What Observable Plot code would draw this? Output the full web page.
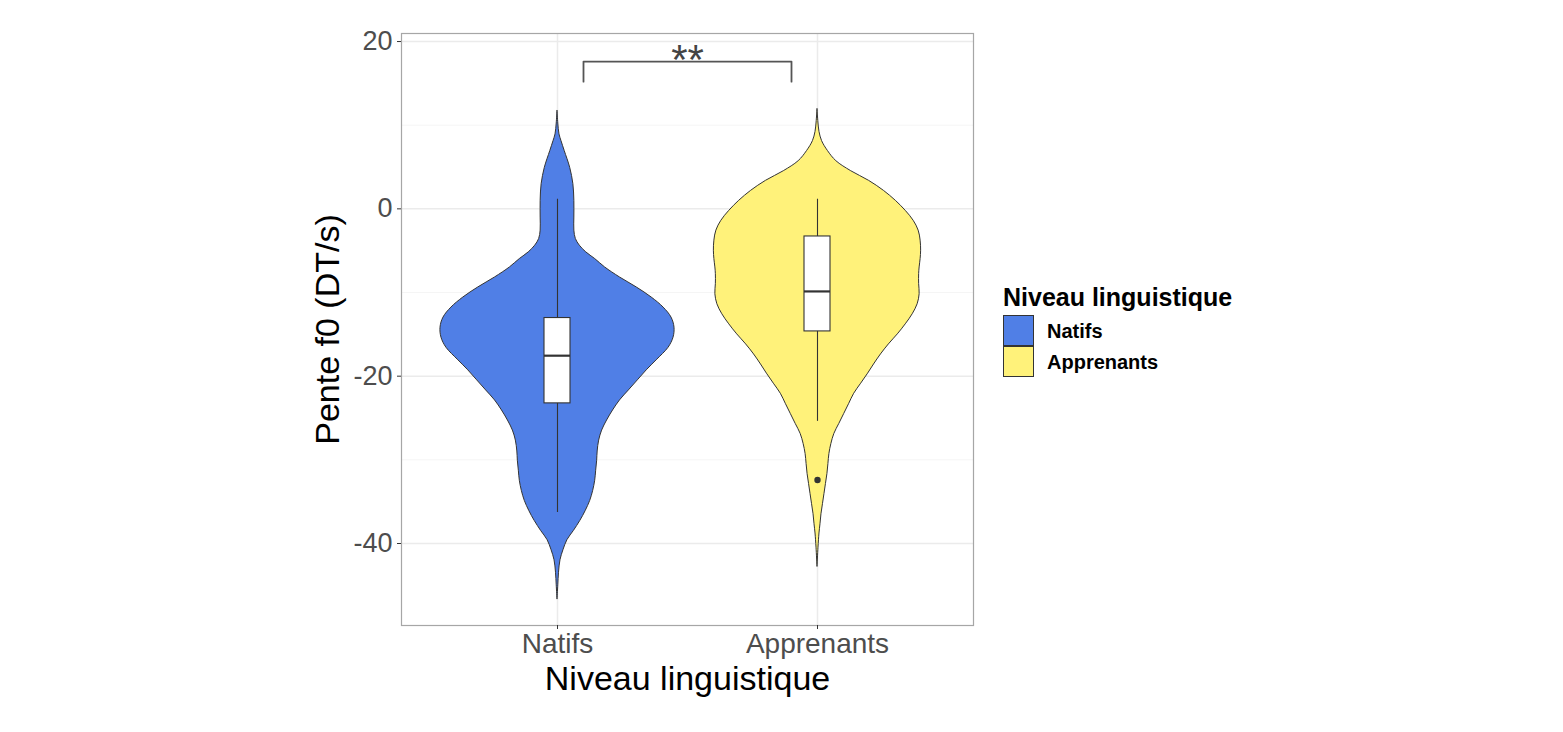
<!DOCTYPE html>
<html>
<head>
<meta charset="utf-8">
<script src="https://cdn.jsdelivr.net/npm/d3@7"></script>
<script src="https://cdn.jsdelivr.net/npm/@observablehq/plot@0.6"></script>
<style>
  html, body { margin: 0; padding: 0; background: #fff; }
  #wrap { position: relative; width: 1563px; height: 732px; font-family: "Liberation Sans", Arial, sans-serif; }
  #legend { position: absolute; left: 1003px; top: 0; }
  .lg-title { position: absolute; left: 0; top: 285px; font-size: 25px; line-height: 25px; font-weight: bold; white-space: nowrap; color: #000; }
  .lg-key { position: absolute; left: 0; width: 29px; height: 29px; border: 1px solid #333; box-sizing: content-box; }
  .lg-label { position: absolute; left: 44px; font-size: 20px; line-height: 20px; font-weight: bold; white-space: nowrap; color: #000; }
</style>
</head>
<body>
<div id="wrap"><div id="chart"></div><div id="legend"></div></div>
<script>
// ---------- data ----------
const categories = ["Natifs", "Apprenants"];
const fillColors = ["#507FE6", "#FFF27A"];

// violin profiles: y value and relative density (half-width)
const natifsY = [11.7, 10.2, 8.9, 8.1, 6.9, 4.9, 2.95, 0.96, -1.04, -2.6, -3.6, -4.4, -5.2, -6.0, -7.0, -8.2, -9.4, -10.6, -11.8, -13.0, -14.2, -15.4, -16.6, -18.1, -19.3, -20.5, -21.7, -22.9, -24.1, -25.3, -26.5, -27.7, -29.0, -30.1, -31.3, -32.5, -33.7, -34.9, -36.1, -37.3, -38.5, -39.6, -40.8, -42.0, -43.5, -45.0, -46.7];
const natifsDensity = [0, 0.8, 2, 4, 7.3, 12.8, 16, 17, 17, 17, 18.5, 22.5, 29, 38, 48, 63, 80, 95, 107, 115, 118, 117, 112, 100, 90, 81, 72, 63, 56, 50, 45, 42, 40.5, 40, 39, 38, 36, 33, 28.5, 23, 16.5, 10, 6, 3, 1.5, 0.8, 0];

const apprenantsY = [11.9, 10.5, 9.2, 8.1, 6.9, 5.7, 4.5, 3.35, 2.15, 0.96, -0.24, -1.43, -2.6, -3.8, -5.0, -6.0, -7.0, -7.8, -9.0, -10.2, -11.4, -12.6, -13.8, -15.0, -16.2, -17.4, -18.6, -19.7, -20.9, -22.1, -23.3, -24.5, -25.7, -26.9, -28.1, -29.3, -30.5, -31.7, -32.9, -34.1, -35.3, -36.5, -37.7, -38.8, -40.5, -42.8];
const apprenantsDensity = [0, 0.8, 2, 4.6, 10.6, 19, 34, 52, 67, 79, 89, 97, 102, 104, 104.5, 104, 103, 102.5, 102.5, 103, 101, 96, 89, 81, 72, 64, 57, 51, 44, 37, 32, 27, 22, 17, 14, 12, 11, 10, 8.5, 7, 5.5, 4, 3, 2, 1, 0];

// box plot statistics
const whiskerLow = [-36.3, -25.4];
const boxQ1 = [-23.25, -14.65];
const boxMedian = [-17.55, -9.87];
const boxQ3 = [-13.05, -3.3];
const whiskerHigh = [1.15, 1.15];
const outlierCategory = ["Apprenants"];
const outlierValue = [-32.4];

// significance annotation
const signifLabel = "**";
const signifPair = ["Natifs", "Apprenants"];
const bracketTop = 17.6;
const bracketLeg = 15.2;

// axes
const yMajorTicks = [20, 0, -20, -40];
const yMinorTicks = [10, -10, -30];
const xTitle = "Niveau linguistique";
const yTitle = "Pente f0 (DT/s)";
const legendTitle = "Niveau linguistique";

// ---------- build ----------
const pos = c => categories.indexOf(c) + 1;
const violinRows = [];
[[natifsY, natifsDensity], [apprenantsY, apprenantsDensity]].forEach(([ys, ds], i) => {
  ys.forEach((y, j) => violinRows.push({cat: categories[i], x: i + 1, y, d: ds[j]}));
});
const maxD = d3.max(violinRows, r => r.d);
const HALF = 0.45;
const hw = r => r.d / maxD * HALF;

const boxes = categories.map((c, i) => ({cat: c, x: i + 1, lo: whiskerLow[i], q1: boxQ1[i], med: boxMedian[i], q3: boxQ3[i], hi: whiskerHigh[i]}));
const BOXW = 0.05;
const outliers = outlierCategory.map((c, i) => ({x: pos(c), y: outlierValue[i]}));

const xa = pos(signifPair[0]) + 0.1, xb = pos(signifPair[1]) - 0.1;
const bracket = [{x: xa, y: bracketLeg}, {x: xa, y: bracketTop}, {x: xb, y: bracketTop}, {x: xb, y: bracketLeg}];

const chart = Plot.plot({
  width: 1563,
  height: 732,
  marginLeft: 401,
  marginRight: 590,
  marginTop: 33,
  marginBottom: 107,
  style: {fontFamily: '"Liberation Sans", Arial, sans-serif', background: "white"},
  x: {type: "linear", domain: [0.4, 2.6], axis: null},
  y: {domain: [-49.8, 20.96], axis: null},
  color: {domain: categories, range: fillColors},
  marks: [
    Plot.ruleY(yMinorTicks, {stroke: "#f2f2f2", strokeWidth: 0.8}),
    Plot.ruleY(yMajorTicks, {stroke: "#ebebeb", strokeWidth: 1.5}),
    Plot.ruleX(categories.map(pos), {stroke: "#ebebeb", strokeWidth: 1.5}),
    Plot.areaX(violinRows, {
      y: "y",
      x1: r => r.x - hw(r),
      x2: r => r.x + hw(r),
      fill: "cat",
      z: "cat",
      stroke: "#333",
      strokeWidth: 1,
      curve: "catmull-rom"
    }),
    Plot.ruleX(boxes, {x: "x", y1: "lo", y2: "hi", stroke: "#333", strokeWidth: 1.1}),
    Plot.rect(boxes, {x1: r => r.x - BOXW, x2: r => r.x + BOXW, y1: "q1", y2: "q3", fill: "white", stroke: "#333", strokeWidth: 1.1}),
    Plot.ruleY(boxes, {y: "med", x1: r => r.x - BOXW, x2: r => r.x + BOXW, stroke: "#333", strokeWidth: 2.2}),
    Plot.dot(outliers, {x: "x", y: "y", r: 3.2, fill: "#333", stroke: "none"}),
    Plot.line(bracket, {x: "x", y: "y", stroke: "#555", strokeWidth: 1.8}),
    Plot.text([signifLabel], {x: (xa + xb) / 2, y: bracketTop, text: d => d, fontSize: 42, fill: "#444", lineAnchor: "middle", textAnchor: "middle", dy: -1}),
    Plot.frame({stroke: "#a6a6a6", strokeWidth: 1.2}),
    Plot.axisY(yMajorTicks, {tickSize: 4, tickPadding: 5, stroke: "#333", fill: "#4d4d4d", fontSize: 27, tickFormat: d => `${d}`, label: null}),
    Plot.axisX(categories.map(pos), {tickSize: 4, tickPadding: 4, stroke: "#333", fill: "#4d4d4d", fontSize: 28, tickFormat: d => categories[d - 1], label: null}),
    Plot.text([xTitle], {frameAnchor: "bottom", dy: 54, text: d => d, fontSize: 34, fill: "#000", lineAnchor: "middle", textAnchor: "middle"}),
    Plot.text([yTitle], {frameAnchor: "left", dx: -73, rotate: -90, text: d => d, fontSize: 34, fill: "#000", lineAnchor: "middle", textAnchor: "middle"})
  ]
});
document.getElementById("chart").appendChild(chart);

// legend
const lg = document.getElementById("legend");
const t = document.createElement("div");
t.className = "lg-title"; t.textContent = legendTitle; lg.appendChild(t);
categories.forEach((c, i) => {
  const k = document.createElement("div");
  k.className = "lg-key";
  k.style.top = (315 + i * 31) + "px";
  k.style.background = fillColors[i];
  lg.appendChild(k);
  const l = document.createElement("div");
  l.className = "lg-label";
  l.style.top = (321 + i * 31) + "px";
  l.textContent = c;
  lg.appendChild(l);
});
</script>
</body>
</html>
